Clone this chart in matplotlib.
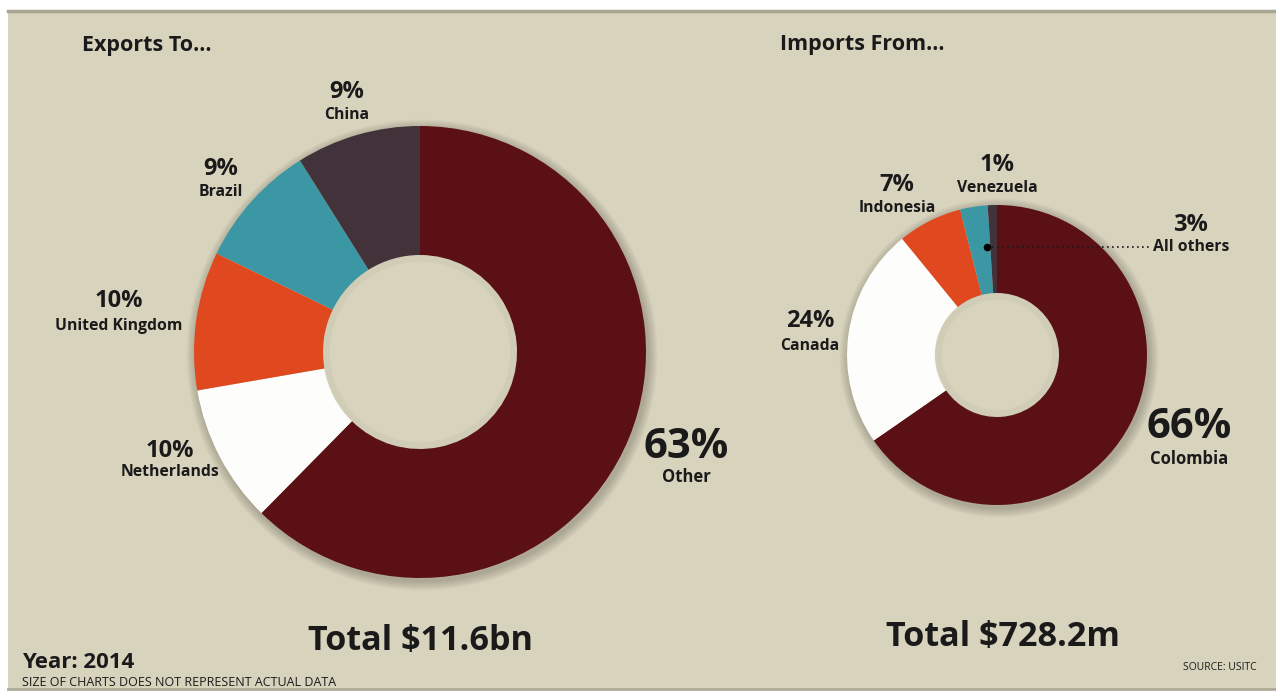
import matplotlib.pyplot as plt
from matplotlib.patches import Circle, Rectangle, Wedge

# trade shares, 2014
export_names = ["Other", "Netherlands", "United Kingdom", "Brazil", "China"]
export_pct = [63, 10, 10, 9, 9]
import_names = ["Colombia", "Canada", "Indonesia", "All others", "Venezuela"]
import_pct = [66, 24, 7, 3, 1]
export_total = "Total $11.6bn"
import_total = "Total $728.2m"

DARK_RED = "#5a1014"
WHITE = "#fdfdfb"
ORANGE = "#e0491f"
TEAL = "#3b97a3"
PLUM = "#42333a"
export_colors = [DARK_RED, WHITE, ORANGE, TEAL, PLUM]
import_colors = [DARK_RED, WHITE, ORANGE, TEAL, PLUM]

BG = "#d7d3bd"
INK = "#1b1a1a"
plt.rcParams['font.family'] = ['Open Sans', 'DejaVu Sans']

W, H = 1276, 694
fig = plt.figure(figsize=(W / 100, H / 100), dpi=100, facecolor="white")
ax = fig.add_axes([0, 0, 1, 1])
ax.set_axis_off()


def py(y):
    # pixel rows counted from the top
    return H - y


# card background
ax.add_patch(Rectangle((8, py(689)), W - 8, 679, facecolor=BG, edgecolor="none", zorder=0))
ax.plot([8, W], [py(11), py(11)], color="#a8a692", lw=2.5, zorder=1)
ax.plot([8, W], [py(689), py(689)], color="#aeac99", lw=2, zorder=1)


def donut(vals, colors, cx, cy, R, r):
    # soft drop shadow outside the ring
    for k in range(8):
        ax.add_patch(Wedge((cx + 2, py(cy) - 3), R + 1 + k * 1.2, 0, 360, width=12,
                           facecolor="#3a3528", edgecolor="none", alpha=0.035, zorder=2))
    wedges, _ = ax.pie(vals, colors=colors, startangle=90, counterclock=False,
                       center=(cx, py(cy)), radius=R,
                       wedgeprops=dict(width=R - r, edgecolor="none", linewidth=0),
                       normalize=True)
    for w in wedges:
        w.set_zorder(3)
    # faint shade around the rim of the hole
    for k in range(5):
        ax.add_patch(Circle((cx, py(cy)), r - k * 1.5, facecolor="none", edgecolor="#5a5545",
                            lw=1.5, alpha=0.035, zorder=4))


donut(export_pct, export_colors, 420, 352, 226, 97)
donut(import_pct, import_colors, 997, 355, 150, 62)
ax.set_xlim(0, W)
ax.set_ylim(0, H)
ax.set_aspect("auto")


def label(x, y_pct, y_name, pct, name, big=17, small=11.3):
    ax.text(x, py(y_pct), f"{pct}%", ha="center", va="center", fontsize=big,
            fontweight="bold", color=INK, zorder=6)
    ax.text(x, py(y_name), name, ha="center", va="center", fontsize=small,
            fontweight="bold", color=INK, zorder=6)


ax.text(82, py(45), "Exports To...", ha="left", va="center", fontsize=15.5, fontweight="bold", color=INK)
ax.text(780, py(44), "Imports From...", ha="left", va="center", fontsize=15.5, fontweight="bold", color=INK)

label(347, 92, 115, export_pct[4], export_names[4])
label(221, 169, 192, export_pct[3], export_names[3])
label(119, 301, 326, export_pct[2], export_names[2])
label(170, 451, 472, export_pct[1], export_names[1])
label(686, 447, 477, export_pct[0], export_names[0], big=30, small=12)

label(997, 165, 188, import_pct[4], import_names[4])
label(897, 185, 208, import_pct[2], import_names[2])
label(1191, 225, 247, import_pct[3], import_names[3])
label(810, 321, 346, import_pct[1], import_names[1])
label(1189, 427, 459, import_pct[0], import_names[0], big=30, small=12)

# leader for the smallest slice
ax.plot([987, 1150], [py(247), py(247)], color=INK, lw=1.2, ls=(0, (1, 2)), zorder=6)
ax.plot([987], [py(247)], marker="o", ms=4.5, color="black", zorder=7)

ax.text(421, py(641), export_total, ha="center", va="center", fontsize=24.6, fontweight="bold", color=INK)
ax.text(1003, py(637), import_total, ha="center", va="center", fontsize=24.6, fontweight="bold", color=INK)

ax.text(22, py(662), "Year: 2014", ha="left", va="center", fontsize=16, fontweight="bold", color=INK)
ax.text(22, py(682), "SIZE OF CHARTS DOES NOT REPRESENT ACTUAL DATA", ha="left", va="center",
        fontsize=9, color=INK)
ax.text(1257, py(668), "SOURCE: USITC", ha="right", va="center", fontsize=7.5, color=INK)

fig.savefig("out.png", dpi=100, facecolor="white")
